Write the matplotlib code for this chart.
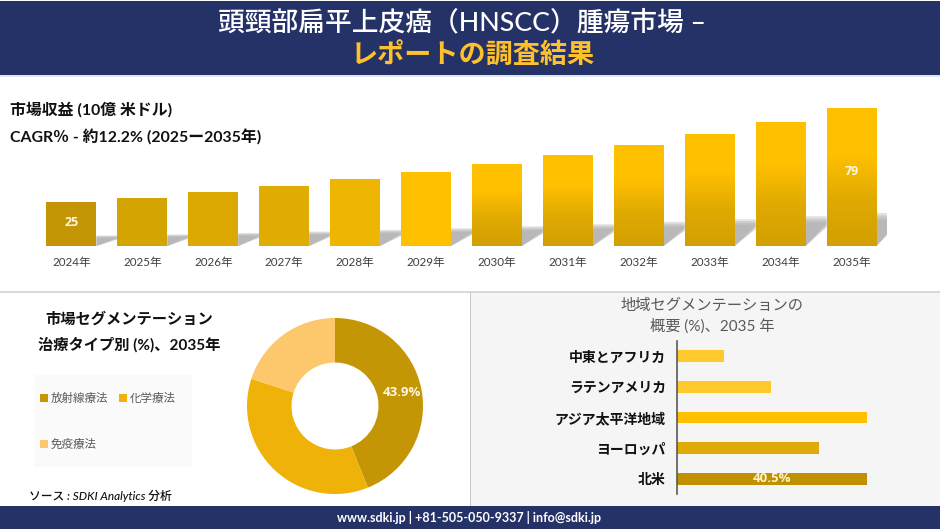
import matplotlib
matplotlib.use("Agg")
import matplotlib.pyplot as plt
from matplotlib.colors import LinearSegmentedColormap
from matplotlib.patches import Rectangle
import numpy as np

plt.rcParams['font.family'] = ['Lato', 'Noto Sans CJK JP', 'DejaVu Sans']

W, H = 940, 529

# Market revenue
years = ["2024年", "2025年", "2026年", "2027年", "2028年", "2029年",
         "2030年", "2031年", "2032年", "2033年", "2034年", "2035年"]
revenue = [25, 27.6, 31, 34.3, 38.3, 42.3, 46.9, 52, 57.5, 63.8, 70.9, 79]
revenue_labels = {0: "25", 11: "79"}
flat_colors = ["#C49504", "#D4A402", "#DCA902", "#E1AC02", "#EEB502", "#FFC000"]

# Treatment type donut
treatments = ["放射線療法", "化学療法", "免疫療法"]
treatment_share = [43.9, 36.1, 20.0]
treatment_colors = ["#C49504", "#EFB208", "#FDC76B"]

# Region bars
regions = ["中東とアフリカ", "ラテンアメリカ", "アジア太平洋地域", "ヨーロッパ", "北米"]
region_share = [10, 20, 40.5, 30.3, 40.5]
region_colors = ["#FFC92E", "#FFC92E", "#FFC000", "#E0A905", "#BF9000"]

NAVY = "#253268"
VALUE_FONT = ['Open Sans', 'DejaVu Sans']


def px_axes(left, top, right, bottom, **kw):
    # Axes placed with reference pixel coordinates
    return fig.add_axes([left / W, 1 - bottom / H, (right - left) / W, (bottom - top) / H], **kw)


fig = plt.figure(figsize=(W / 100, H / 100), dpi=100, facecolor="white")

# Page background, header and footer bands
bg = px_axes(0, 0, W, H)
bg.set_xlim(0, W)
bg.set_ylim(H, 0)
bg.axis("off")
bg.add_patch(Rectangle((470, 292), 470, 214, fc="#F5F5F5", ec="none"))
bg.add_patch(Rectangle((0, 1), W, 74, fc=NAVY, ec="none"))
bg.add_patch(Rectangle((0, 75), W, 2, fc="#DDE5F0", ec="none"))
bg.add_patch(Rectangle((0, 291), W, 2, fc="#D9D9D9", ec="none"))
bg.add_patch(Rectangle((470, 292), 1, 214, fc="#C8C8C8", ec="none"))
bg.add_patch(Rectangle((0, 506), W, 23, fc=NAVY, ec="none"))
bg.add_patch(Rectangle((34, 375), 158, 92, fc="#FAFAFA", ec="none"))

bg.text(462, 23, "頭頸部扁平上皮癌（HNSCC）腫瘍市場 –", color="white", fontsize=19.3,
        ha="center", va="center", fontweight="medium")
bg.text(473, 55, "レポートの調査結果", color="#FFC12B", fontsize=19.5,
        ha="center", va="center", fontweight="bold")
bg.text(10, 110, "市場収益 (10億 米ドル)", color="#111111", fontsize=11.4, va="center", fontweight="bold")
bg.text(10, 138, "CAGR％ - 約12.2% (2025ー2035年)", color="#111111", fontsize=11.4, va="center", fontweight="bold")
bg.text(129, 319, "市場セグメンテーション", color="#111111", fontsize=11, ha="center", va="center", fontweight="bold")
bg.text(129, 345, "治療タイプ別 (%)、2035年", color="#111111", fontsize=11, ha="center", va="center", fontweight="bold")
bg.text(712, 306, "地域セグメンテーションの", color="#595959", fontsize=11, ha="center", va="center")
bg.text(712, 326, "概要 (%)、2035 年", color="#595959", fontsize=11, ha="center", va="center")
bg.text(29, 496, "ソース : SDKI Analytics 分析", color="#111111", fontsize=8.5, va="center",
        style="italic", fontweight="medium")
bg.text(469, 518, "www.sdki.jp | +81-505-050-9337 | info@sdki.jp", color="white", fontsize=9,
        ha="center", va="center", fontweight="bold")

# Revenue bars
ax = px_axes(36, 100, 887, 246)
ax.patch.set_alpha(0)
xs = np.arange(len(years))
bar_w = 0.705
ax.set_xlim(-0.5, len(years) - 0.5)
ax.set_ylim(0, 83.5)

# Grey slanted shadow leaving the right side of each bar
gap = 1 - bar_w
for x, v in zip(xs, revenue):
    right = x + bar_w / 2
    for frac in (1.0, 0.93, 0.86, 0.79):
        top = v * 0.24 * frac
        ax.fill([right, right + gap, right + gap, right],
                [0, 0.62 * v * 0.24 / frac, max(top, 0.62 * v * 0.24), top],
                color="#A8A8A8", alpha=0.33, lw=0, zorder=1)

bars = ax.bar(xs, revenue, width=bar_w, color=flat_colors + ["#FFC000"] * 6, zorder=2)

# Later bars fade towards a darker gold at the base
grad = LinearSegmentedColormap.from_list("bar_fade", ["#D2A002", "#E0AA02", "#FFC000", "#FFC000"])
for bar in bars[6:]:
    im = ax.imshow(np.linspace(1, 0, 64).reshape(-1, 1), cmap=grad, aspect="auto", zorder=3,
                   extent=[bar.get_x(), bar.get_x() + bar.get_width(), 0, bar.get_height()])
    im.set_clip_path(bar)
ax.set_xlim(-0.5, len(years) - 0.5)
ax.set_ylim(0, 83.5)

for i, label in revenue_labels.items():
    ax.text(xs[i], revenue[i] * 0.54, label, color="#FFF8E0", fontsize=9, fontweight="bold",
            family=VALUE_FONT, ha="center", va="center", zorder=4)

ax.set_xticks(xs, years, fontsize=8.4, color="#404040")
ax.set_yticks([])
ax.tick_params(axis="x", length=0, pad=8)
for s in ax.spines.values():
    s.set_visible(False)

# Treatment donut
ax_d = px_axes(235, 306, 435, 506)
ax_d.set_aspect("equal")
wedges, _, pct = ax_d.pie(treatment_share, colors=treatment_colors, startangle=90, counterclock=False,
                          radius=0.88, wedgeprops=dict(width=0.445),
                          autopct=lambda p: f"{p:.1f}%" if p > 40 else "", pctdistance=0.78)
for t in pct:
    t.set_color("#FFF8E0")
    t.set_fontsize(9.5)
    t.set_fontweight("bold")
    t.set_family(VALUE_FONT)
ax_d.set_xlim(-1, 1)
ax_d.set_ylim(-1, 1)

# Columns fill top to bottom, so the third item goes second
fig.legend([wedges[0], wedges[2], wedges[1]], [treatments[0], treatments[2], treatments[1]],
           ncols=2, loc="upper left", bbox_to_anchor=(40 / W, 1 - 393 / H),
           bbox_transform=fig.transFigure, frameon=False,
           fontsize=8.3, labelcolor="#595959", handlelength=0.7, handleheight=0.7,
           handletextpad=0.2, columnspacing=1.0, labelspacing=3.0, borderaxespad=0, borderpad=0)

# Region bars
ax_r = px_axes(677, 341, 920, 494)
ax_r.patch.set_alpha(0)
ys = np.arange(len(regions))
ax_r.barh(ys, region_share, height=0.39, color=region_colors)
ax_r.set_xlim(0, 243 / 4.69)
ax_r.set_ylim(len(regions) - 0.5, -0.5)
ax_r.text(region_share[-1] / 2, ys[-1], f"{region_share[-1]}%", color="#FFF3C8", fontsize=9.5,
          fontweight="bold", family=VALUE_FONT, ha="center", va="center")
ax_r.set_yticks(ys, regions, fontsize=10, fontweight="bold", color="#111111")
ax_r.set_xticks([])
ax_r.tick_params(axis="y", length=0, pad=8)
for name, s in ax_r.spines.items():
    s.set_visible(name == "left")
ax_r.spines["left"].set_color("#595959")
ax_r.spines["left"].set_linewidth(1.2)

fig.savefig("out.png", dpi=100)
